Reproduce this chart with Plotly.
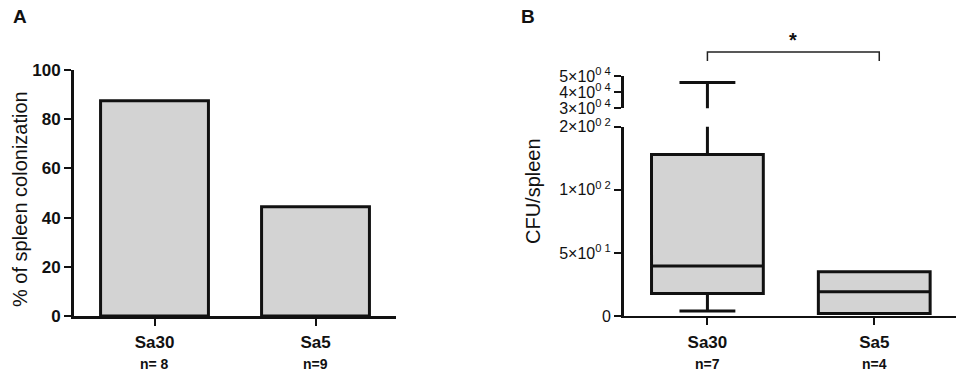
import plotly.graph_objects as go

# ---- data ----
categories = ["Sa30", "Sa5"]
n_left = ["n= 8", "n=9"]
n_right = ["n=7", "n=4"]
colonization_pct = [87.5, 44.4]

cfu_q1 = [17.9, 2.0]
cfu_median = [39.7, 19.2]
cfu_q3 = [128.0, 35.0]
cfu_min = [3.9, 2.0]
cfu_max = [46000.0, 35.0]

left_ticks = [0, 20, 40, 60, 80, 100]
low_tickvals = [0, 50, 100, 150]
low_ticktext = ["0", "5×10<sup>0 1</sup>", "1×10<sup>0 2</sup>", "2×10<sup>0 2</sup>"]
up_tickvals = [30000, 40000, 50000]
up_ticktext = ["3×10<sup>0 4</sup>", "4×10<sup>0 4</sup>", "5×10<sup>0 4</sup>"]
low_top = 150
up_bottom = 30000

W, H = 956, 380
FONT = "Liberation Sans, Arial, sans-serif"
INK = "#111111"
FILL = "#d3d3d3"

def px(x):
    return x / W

def py(y):
    return 1 - y / H

xpos = list(range(len(categories)))

fig = go.Figure()

# panel A bars
fig.add_trace(go.Bar(
    x=xpos, y=colonization_pct, width=0.67,
    marker=dict(color=FILL, line=dict(color=INK, width=3)),
    xaxis="x", yaxis="y", hoverinfo="skip", showlegend=False))

# panel B boxes (lower and upper segment share the same data)
for xa, ya in (("x2", "y2"), ("x3", "y3")):
    fig.add_trace(go.Box(
        x=xpos, q1=cfu_q1, median=cfu_median, q3=cfu_q3,
        lowerfence=cfu_min, upperfence=cfu_max,
        width=0.67, whiskerwidth=0.5, boxpoints=False,
        fillcolor=FILL, line=dict(color=INK, width=3),
        xaxis=xa, yaxis=ya, hoverinfo="skip", showlegend=False))

tickfont_b = dict(family=FONT, size=17, color=INK, weight="bold")
tickfont_r = dict(family=FONT, size=16, color=INK)

common = dict(automargin=False, showgrid=False, zeroline=False)

fig.update_layout(
    width=W, height=H, margin=dict(l=0, r=0, t=0, b=0, autoexpand=False),
    paper_bgcolor="white", plot_bgcolor="white",
    showlegend=False,
    xaxis=dict(domain=[px(74), px(396)], range=[-0.5, 1.5], anchor="y",
               tickvals=xpos, ticktext=categories, tickfont=tickfont_b,
               ticks="outside", ticklen=7, tickwidth=2, tickcolor=INK,
               showline=True, linewidth=2.5, linecolor=INK,
               ticklabelstandoff=2, **common),
    yaxis=dict(domain=[py(316), py(70)], range=[0, 100], anchor="x",
               tickvals=left_ticks, tickfont=tickfont_b,
               ticks="outside", ticklen=7, tickwidth=2, tickcolor=INK,
               showline=True, linewidth=3, linecolor=INK, **common),
    xaxis2=dict(domain=[px(624), 1.0], range=[-0.5, 1.49], anchor="y2",
                tickvals=xpos, ticktext=categories, tickfont=tickfont_b,
                ticks="outside", ticklen=7, tickwidth=1.5, tickcolor=INK,
                showline=True, linewidth=1.8, linecolor=INK,
                ticklabelstandoff=3, **common),
    yaxis2=dict(domain=[py(316), py(126.7)], range=[0, low_top], anchor="x2",
                tickvals=low_tickvals, ticktext=low_ticktext, tickfont=tickfont_r,
                ticks="outside", ticklen=7, tickwidth=2, tickcolor=INK,
                showline=True, linewidth=3, linecolor=INK, **common),
    xaxis3=dict(domain=[px(624), 1.0], range=[-0.5, 1.49], anchor="y3",
                visible=False, matches="x2", **common),
    yaxis3=dict(domain=[py(108.3), py(76)], range=[30000, 50000], anchor="x3",
                tickvals=up_tickvals, ticktext=up_ticktext, tickfont=tickfont_r,
                ticks="outside", ticklen=7, tickwidth=2, tickcolor=INK,
                showline=True, linewidth=3, linecolor=INK, **common),
    # inner tick halves at segment ends of the broken axis
    yaxis4=dict(overlaying="y2", anchor="x2", side="left", range=[0, low_top],
                tickvals=[low_top], ticks="inside", ticklen=7, tickwidth=2,
                tickcolor=INK, showticklabels=False, showline=False, **common),
    yaxis5=dict(overlaying="y3", anchor="x3", side="left", range=[30000, 50000],
                tickvals=[up_bottom], ticks="inside", ticklen=7, tickwidth=2,
                tickcolor=INK, showticklabels=False, showline=False, **common),
)

# invisible traces to activate the overlay axes
fig.add_trace(go.Scatter(x=[None], y=[None], xaxis="x2", yaxis="y4",
                         showlegend=False, hoverinfo="skip"))
fig.add_trace(go.Scatter(x=[None], y=[None], xaxis="x3", yaxis="y5",
                         showlegend=False, hoverinfo="skip"))

ann = []
# panel labels
ann.append(dict(text="<b>A</b>", x=px(11), y=py(16), xref="paper", yref="paper",
                xanchor="left", yanchor="middle", showarrow=False,
                font=dict(family=FONT, size=19, color=INK)))
ann.append(dict(text="<b>B</b>", x=px(519), y=py(16), xref="paper", yref="paper",
                xanchor="left", yanchor="middle", showarrow=False,
                font=dict(family=FONT, size=19, color=INK)))
# axis titles
ann.append(dict(text="% of spleen colonization", x=px(20), y=py(199), xref="paper",
                yref="paper", textangle=-90, showarrow=False,
                xanchor="center", yanchor="middle",
                font=dict(family=FONT, size=20, color=INK)))
ann.append(dict(text="CFU/spleen", x=px(533), y=py(191), xref="paper",
                yref="paper", textangle=-90, showarrow=False,
                xanchor="center", yanchor="middle",
                font=dict(family=FONT, size=20, color=INK)))
# n labels
for i, t in enumerate(n_left):
    ann.append(dict(text="<b>" + t + "</b>", x=xpos[i], y=py(364), xref="x", yref="paper",
                    showarrow=False, xanchor="center", yanchor="middle",
                    font=dict(family=FONT, size=14, color=INK)))
for i, t in enumerate(n_right):
    ann.append(dict(text="<b>" + t + "</b>", x=xpos[i], y=py(364), xref="x2", yref="paper",
                    showarrow=False, xanchor="center", yanchor="middle",
                    font=dict(family=FONT, size=14, color=INK)))
# significance star
ann.append(dict(text="<b>*</b>", x=0.51, y=py(40), xref="x2", yref="paper",
                showarrow=False, xanchor="center", yanchor="middle",
                font=dict(family=FONT, size=20, color=INK)))
fig.update_layout(annotations=ann)

# significance bracket between the two groups
fig.add_shape(type="path", xref="x2", yref="paper",
              path=f"M {xpos[0]},{py(61)} L {xpos[0]},{py(52)} L {xpos[1] + 0.03},{py(52)} L {xpos[1] + 0.03},{py(61)}",
              line=dict(color="#222222", width=1.5))

fig.write_html("out.html")
